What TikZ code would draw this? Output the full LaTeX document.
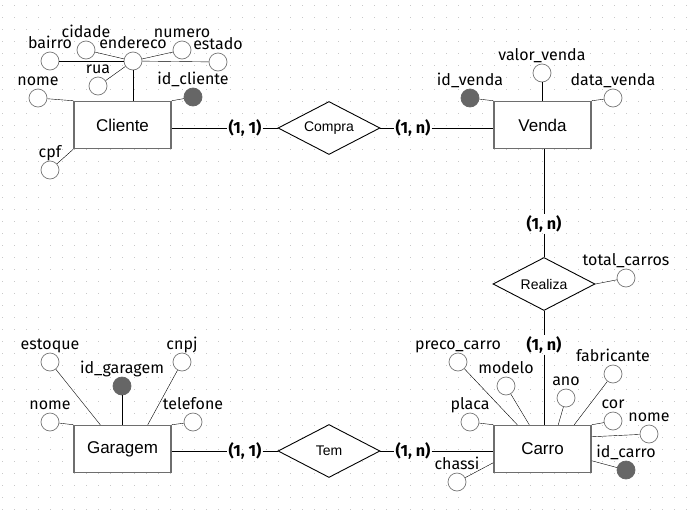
\documentclass[tikz,border=0pt]{standalone}
\usepackage{fontspec}
\setmainfont{Fira Sans}
\newfontfamily\boxfont{Liberation Sans}
\usetikzlibrary{shapes.geometric}
\definecolor{boxgray}{RGB}{110,110,110}
\definecolor{circgray}{RGB}{120,120,120}
\definecolor{keygray}{RGB}{102,102,102}
\definecolor{dotgray}{RGB}{200,200,200}
\tikzset{
  entity/.style={draw=boxgray, line width=1.5pt, fill=white, minimum width=97pt, minimum height=47pt, inner sep=0pt, font=\boxfont\fontsize{17}{20}\selectfont},
  rel/.style={diamond, draw, line width=0.9pt, fill=white, aspect=2, minimum width=102pt, minimum height=53pt, inner sep=0pt, font=\boxfont\fontsize{14}{17}\selectfont},
  lbl/.style={font=\fontsize{16}{19}\selectfont, inner sep=0pt, text height=11.5pt, text depth=3pt},
  attr/.style={circle, draw=circgray, line width=0.7pt, fill=white, minimum size=18pt, inner sep=0pt, label distance=0.3pt},
  keyattr/.style={attr, fill=keygray, draw=keygray},
  card/.style={font=\bfseries\fontsize{16.2}{19}\selectfont, inner sep=1pt},
  conn/.style={line width=1pt}
}
\begin{document}
\begin{tikzpicture}[x=1pt, y=-1pt]
    \fill[white] (0,0) rectangle (694,512);
    \useasboundingbox (0,0) rectangle (694,512);
    \foreach \i in {0,...,57} \foreach \j in {0,...,42} \fill[dotgray] (2+12*\i,5+12*\j) rectangle +(1.2,1.2);

    \node[entity] (Cliente) at (122.5,125) {Cliente};
    \node[entity] (Venda) at (542.5,125) {Venda};
    \node[entity] (Garagem) at (122.5,449) {Garagem};
    \node[entity] (Carro) at (542.5,449) {Carro};

    \node[rel] (Compra) at (329,128) {Compra};
    \node[rel] (Realiza) at (544,284) {Realiza};
    \node[rel] (Tem) at (329,451) {Tem};

    \node[card] (c11) at (245,128) {(1, 1)};
    \node[card] (c1n) at (413,128) {(1, n)};
    \node[card] (r1n) at (544,224) {(1, n)};
    \node[card] (r2n) at (544,345) {(1, n)};
    \node[card] (t11) at (245,451) {(1, 1)};
    \node[card] (t1n) at (413,451) {(1, n)};

    \node[attr, label={[lbl]above:nome}] (clinome) at (38,98) {};
    \node[keyattr, label={[lbl]above:id\_cliente}] (idcliente) at (193,97) {};
    \node[attr, label={[lbl]above:cpf}] (cpf) at (50,170) {};
    \node[attr, label={[lbl]above:endereco}] (endereco) at (133,61) {};
    \node[attr, label={[lbl]above:bairro}] (bairro) at (50,61) {};
    \node[attr, label={[lbl]above:cidade}] (cidade) at (86,50) {};
    \node[attr, label={[lbl]above:numero}] (numero) at (182,50) {};
    \node[attr, label={[lbl]above:estado}] (estado) at (218,62) {};
    \node[attr, label={[lbl]above:rua}] (rua) at (98,86) {};

    \node[keyattr, label={[lbl]above:id\_venda}] (idvenda) at (470,98) {};
    \node[attr, label={[lbl]above:valor\_venda}] (valor) at (542,73) {};
    \node[attr, label={[lbl]above:data\_venda}] (data) at (613,98) {};

    \node[attr, label={[lbl]above:total\_carros}] (total) at (626,278) {};

    \node[attr, label={[lbl]above:estoque}] (estoque) at (50,362) {};
    \node[keyattr, label={[lbl]above:id\_garagem}] (idgaragem) at (122,386) {};
    \node[attr, label={[lbl]above:cnpj}] (cnpj) at (182,362) {};
    \node[attr, label={[lbl]above:nome}] (garnome) at (50,422) {};
    \node[attr, label={[lbl]above:telefone}] (telefone) at (193,422) {};

    \node[attr, label={[lbl]above:preco\_carro}] (preco) at (458,362) {};
    \node[attr, label={[lbl]above:modelo}] (modelo) at (506,386) {};
    \node[attr, label={[lbl]above:ano}] (ano) at (566,398) {};
    \node[attr, label={[lbl]above:fabricante}] (fabricante) at (613,374) {};
    \node[attr, label={[lbl]above:placa}] (placa) at (470,422) {};
    \node[attr, label={[lbl]above:cor}] (cor) at (613,421) {};
    \node[attr, label={[lbl]above:nome}] (carnome) at (649,434) {};
    \node[keyattr, label={[lbl]above:id\_carro}] (idcarro) at (626,470) {};
    \node[attr, label={[lbl]above:chassi}] (chassi) at (457,482) {};

    \draw[conn] (c11 -| Cliente.east) -- (c11) -- (Compra) -- (c1n) -- (c1n -| Venda.west);
    \draw[conn] (r1n |- Venda.south) -- (r1n) -- (Realiza) -- (r2n) -- (r2n |- Carro.north);
    \draw[conn] (t11 -| Garagem.east) -- (t11) -- (Tem) -- (t1n) -- (t1n -| Carro.west);

    \draw (clinome) -- (Cliente.north west); \draw (idcliente) -- (Cliente.north east); \draw (cpf) -- (Cliente.south west);
    \draw (endereco) -- (endereco |- Cliente.north);
    \draw (endereco) -- (bairro); \draw (endereco) -- (cidade); \draw (endereco) -- (numero); \draw (endereco) -- (estado); \draw (endereco) -- (rua);

    \draw (idvenda) -- (Venda.north west); \draw (valor) -- (valor |- Venda.north); \draw (data) -- (Venda.north east);
    \draw (total) -- (Realiza.east);

    \draw (estoque) -- ([xshift=27pt]Garagem.north west); \draw (idgaragem) -- (idgaragem |- Garagem.north); \draw (cnpj) -- ([xshift=-24pt]Garagem.north east);
    \draw (garnome) -- (Garagem.north west); \draw (telefone) -- (Garagem.north east);

    \draw (preco) -- ([xshift=24pt]Carro.north west); \draw (modelo) -- ([xshift=36pt]Carro.north west);
    \draw (ano) -- ([xshift=65pt]Carro.north west); \draw (fabricante) -- ([xshift=81pt]Carro.north west);
    \draw (placa) -- (Carro.north west); \draw (cor) -- (Carro.north east);
    \draw (carnome) -- ([yshift=-12pt]Carro.north east); \draw (idcarro) -- ([yshift=-36pt]Carro.north east);
    \draw (chassi) -- ([yshift=-38pt]Carro.north west);
\end{tikzpicture}
\end{document}
